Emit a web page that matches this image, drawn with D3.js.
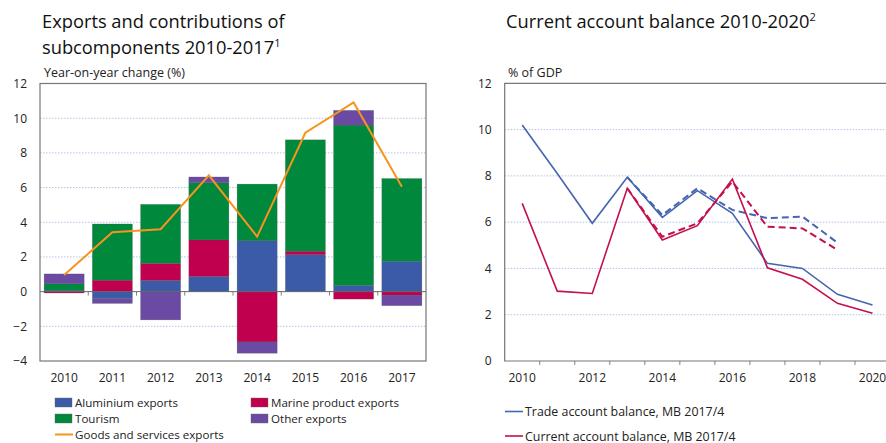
<!DOCTYPE html>
<html>
<head>
<meta charset="utf-8">
<script src="https://cdn.jsdelivr.net/npm/d3@7"></script>
<style>
  body { margin: 0; background: #fff; }
  svg { font-family: "Open Sans", sans-serif; display: block; }
</style>
</head>
<body>
<svg id="chart" width="886" height="443"></svg>
<script>
// Left chart: contributions to export growth (percentage points)
var years = ["2010", "2011", "2012", "2013", "2014", "2015", "2016", "2017"];
var aluminium = [0.08, -0.4, 0.65, 0.87, 2.93, 2.13, 0.35, 1.75];
var marine = [-0.08, 0.66, 0.98, 2.11, -2.9, 0.2, -0.43, -0.2];
var tourism = [0.37, 3.24, 3.4, 3.3, 3.27, 6.42, 9.25, 4.77];
var other = [0.57, -0.28, -1.63, 0.33, -0.65, 0, 0.85, -0.61];
var goodsServices = [0.96, 3.42, 3.6, 6.7, 3.17, 9.16, 10.91, 6.05];
var leftTicks = [-4, -2, 0, 2, 4, 6, 8, 10, 12];

// Right chart: balances (% of GDP)
var balYears = ["2010", "2011", "2012", "2013", "2014", "2015", "2016", "2017", "2018", "2019", "2020"];
var tradeBal = [10.2, 8.1, 5.95, 7.94, 6.21, 7.36, 6.38, 4.22, 4.0, 2.88, 2.42];
var currentBal = [6.81, 3.02, 2.92, 7.46, 5.23, 5.85, 7.86, 4.03, 3.53, 2.49, 2.06];
var tradeBalPrev = [null, null, null, 7.94, 6.31, 7.46, 6.53, 6.17, 6.24, 5.11, null];
var currentBalPrev = [null, null, null, 7.46, 5.37, 5.95, 7.75, 5.8, 5.73, 4.8, null];
var rightTicks = [0, 2, 4, 6, 8, 10, 12];
var rightLabelYears = ["2010", "2012", "2014", "2016", "2018", "2020"];

var colors = {
    aluminium: "#3b5ba8",
    marine: "#c0004f",
    tourism: "#00883d",
    other: "#6a4aa3",
    line: "#f7941d",
    trade: "#4565b0",
    current: "#c4104e"
};

var svg = d3.select("#chart");
var gridColor = "#9fb3dc";

// ---------- left chart ----------
var L = {left: 40, right: 426, top: 83.5, bottom: 361};

var x = d3.scaleBand().domain(years).range([L.left, L.right]).paddingInner(0.17).paddingOuter(0.085);
var y = d3.scaleLinear().domain([-4, 12]).range([L.bottom, L.top]);

var left = svg.append("g").attr("class", "left");

left.append("text").attr("x", 42).attr("y", 27.5).attr("font-size", 18.3).attr("fill", "#111")
    .text("Exports and contributions of");
var t2 = left.append("text").attr("x", 42).attr("y", 53.5).attr("font-size", 18.3).attr("fill", "#111")
    .text("subcomponents 2010-2017");
t2.append("tspan").attr("dy", -7).attr("font-size", 11).text("1");
left.append("text").attr("x", 44).attr("y", 77).style("font-size", "12.5px").attr("fill", "#222")
    .text("Year-on-year change (%)");

// gridlines
left.selectAll("line.grid")
    .data(leftTicks.filter(function(d) { return d != 0 && d != 12 && d != -4; }))
    .enter().append("line")
    .attr("class", "grid")
    .attr("x1", L.left).attr("x2", L.right)
    .attr("y1", function(d) { return y(d); }).attr("y2", function(d) { return y(d); })
    .attr("stroke", gridColor).attr("stroke-width", 0.8).attr("stroke-dasharray", "1.5,1.5");

// y axis labels
left.append("g")
    .attr("transform", "translate(" + L.left + ",0)")
    .call(d3.axisLeft(y).tickValues(leftTicks).tickSize(0).tickPadding(13))
    .call(function(g) { g.select(".domain").remove(); })
    .selectAll("text").attr("font-size", 12).attr("fill", "#222").style("font-family", "Open Sans, sans-serif");

// stacked bars
var keys = ["aluminium", "marine", "tourism", "other"];
var rows = years.map(function(yr, i) {
    return {year: yr, aluminium: aluminium[i], marine: marine[i], tourism: tourism[i], other: other[i]};
});
var series = d3.stack().keys(keys).offset(d3.stackOffsetDiverging)(rows);

left.selectAll("g.series")
    .data(series)
    .enter().append("g")
    .attr("class", "series")
    .attr("fill", function(d) { return colors[d.key]; })
    .selectAll("rect")
    .data(function(d) { return d; })
    .enter().append("rect")
    .attr("x", function(d) { return x(d.data.year); })
    .attr("width", x.bandwidth())
    .attr("y", function(d) { return y(Math.max(d[0], d[1])); })
    .attr("height", function(d) { return Math.abs(y(d[0]) - y(d[1])); })
    .attr("stroke", "#555")
    .attr("stroke-width", 0.4)
    .attr("stroke-opacity", 0.6);

// zero line and band ticks
left.append("line")
    .attr("x1", L.left).attr("x2", L.right)
    .attr("y1", y(0)).attr("y2", y(0))
    .attr("stroke", "#666").attr("stroke-width", 1);
left.selectAll("line.btick")
    .data(years.slice(1))
    .enter().append("line")
    .attr("class", "btick")
    .attr("x1", function(d) { return x(d) - x.step() * x.paddingInner() / 2; })
    .attr("x2", function(d) { return x(d) - x.step() * x.paddingInner() / 2; })
    .attr("y1", y(0)).attr("y2", y(0) + 4)
    .attr("stroke", "#666").attr("stroke-width", 0.8);

// goods and services line
left.append("path")
    .datum(goodsServices)
    .attr("fill", "none")
    .attr("stroke", colors.line)
    .attr("stroke-width", 2)
    .attr("d", d3.line()
        .x(function(d, i) { return x(years[i]) + x.bandwidth() / 2; })
        .y(function(d) { return y(d); }));

// plot frame
left.append("rect")
    .attr("x", L.left).attr("y", L.top)
    .attr("width", L.right - L.left).attr("height", L.bottom - L.top)
    .attr("fill", "none").attr("stroke", "#777").attr("stroke-width", 1.2);

// x labels
left.append("g")
    .attr("transform", "translate(0," + (L.bottom + 2) + ")")
    .call(d3.axisBottom(x).tickSize(0).tickPadding(10))
    .call(function(g) { g.select(".domain").remove(); })
    .selectAll("text").attr("font-size", 12).attr("fill", "#222").style("font-family", "Open Sans, sans-serif");

// legend
var legendItems = [
    {label: "Aluminium exports", color: colors.aluminium, x: 55, y: 402.5, type: "box"},
    {label: "Marine product exports", color: colors.marine, x: 251, y: 402.5, type: "box"},
    {label: "Tourism", color: colors.tourism, x: 55, y: 418.5, type: "box"},
    {label: "Other exports", color: colors.other, x: 251, y: 418.5, type: "box"},
    {label: "Goods and services exports", color: colors.line, x: 55, y: 434.5, type: "line"}
];
var leg = left.selectAll("g.legend").data(legendItems).enter().append("g")
    .attr("class", "legend")
    .attr("transform", function(d) { return "translate(" + d.x + "," + d.y + ")"; });
leg.filter(function(d) { return d.type == "box"; }).append("rect")
    .attr("x", 0).attr("y", -4.5).attr("width", 17).attr("height", 9)
    .attr("fill", function(d) { return d.color; }).attr("stroke", "#666").attr("stroke-width", 0.4);
leg.filter(function(d) { return d.type == "line"; }).append("line")
    .attr("x1", 0).attr("x2", 18).attr("y1", 0).attr("y2", 0)
    .attr("stroke", function(d) { return d.color; }).attr("stroke-width", 2);
leg.append("text")
    .attr("x", 20).attr("y", 4.2)
    .attr("font-size", 11.6).attr("fill", "#222")
    .text(function(d) { return d.label; });

// ---------- right chart ----------
var R = {left: 504.7, right: 890, top: 83.3, bottom: 361};
var x2 = d3.scaleBand().domain(balYears).range([R.left, R.right]);
var y2 = d3.scaleLinear().domain([0, 12]).range([R.bottom, R.top]);

var right = svg.append("g").attr("class", "right");

var rt = right.append("text").attr("x", 506).attr("y", 27.5).attr("font-size", 18.3).attr("fill", "#111")
    .text("Current account balance 2010-2020");
rt.append("tspan").attr("dy", -7).attr("font-size", 11).text("2");
right.append("text").attr("x", 508).attr("y", 77).style("font-size", "12.5px").attr("fill", "#222")
    .text("% of GDP");

right.selectAll("line.grid")
    .data(rightTicks.filter(function(d) { return d != 0 && d != 12; }))
    .enter().append("line")
    .attr("class", "grid")
    .attr("x1", R.left).attr("x2", R.right)
    .attr("y1", function(d) { return y2(d); }).attr("y2", function(d) { return y2(d); })
    .attr("stroke", gridColor).attr("stroke-width", 0.8).attr("stroke-dasharray", "1.5,1.5");

right.append("g")
    .attr("transform", "translate(" + R.left + ",0)")
    .call(d3.axisLeft(y2).tickValues(rightTicks).tickSize(0).tickPadding(13))
    .call(function(g) { g.select(".domain").remove(); })
    .selectAll("text").attr("font-size", 12).attr("fill", "#222").style("font-family", "Open Sans, sans-serif");

function balLine(values, color, width, dash) {
    var line = d3.line()
        .defined(function(d) { return d != null; })
        .x(function(d, i) { return x2(balYears[i]) + x2.bandwidth() / 2; })
        .y(function(d) { return y2(d); });
    right.append("path")
        .datum(values)
        .attr("fill", "none")
        .attr("stroke", color)
        .attr("stroke-width", width)
        .attr("stroke-dasharray", dash)
        .attr("d", line);
}
balLine(tradeBalPrev, colors.trade, 2, "7,4");
balLine(currentBalPrev, colors.current, 2, "7,4");
balLine(tradeBal, colors.trade, 1.6, null);
balLine(currentBal, colors.current, 1.6, null);

// frame: left, top, bottom
right.append("path")
    .attr("d", "M" + R.right + "," + R.top + "H" + R.left + "V" + R.bottom + "H" + R.right)
    .attr("fill", "none").attr("stroke", "#777").attr("stroke-width", 1.2);

right.selectAll("line.btick")
    .data(balYears.slice(1))
    .enter().append("line")
    .attr("class", "btick")
    .attr("x1", function(d) { return x2(d); }).attr("x2", function(d) { return x2(d); })
    .attr("y1", R.bottom).attr("y2", R.bottom + 4)
    .attr("stroke", "#666").attr("stroke-width", 0.8);

right.append("g")
    .attr("transform", "translate(0," + (R.bottom + 2) + ")")
    .call(d3.axisBottom(x2).tickValues(rightLabelYears).tickSize(0).tickPadding(10))
    .call(function(g) { g.select(".domain").remove(); })
    .selectAll("text").attr("font-size", 12).attr("fill", "#222").style("font-family", "Open Sans, sans-serif");

var rightLegend = [
    {label: "Trade account balance, MB 2017/4", color: colors.trade, y: 411.5},
    {label: "Current account balance, MB 2017/4", color: colors.current, y: 436}
];
var rl = right.selectAll("g.legend").data(rightLegend).enter().append("g")
    .attr("class", "legend")
    .attr("transform", function(d) { return "translate(505," + d.y + ")"; });
rl.append("line")
    .attr("x1", 0).attr("x2", 18).attr("y1", 0).attr("y2", 0)
    .attr("stroke", function(d) { return d.color; }).attr("stroke-width", 1.6);
rl.append("text")
    .attr("x", 20).attr("y", 4.5)
    .attr("font-size", 12.4).attr("fill", "#222")
    .text(function(d) { return d.label; });
</script>
</body>
</html>
